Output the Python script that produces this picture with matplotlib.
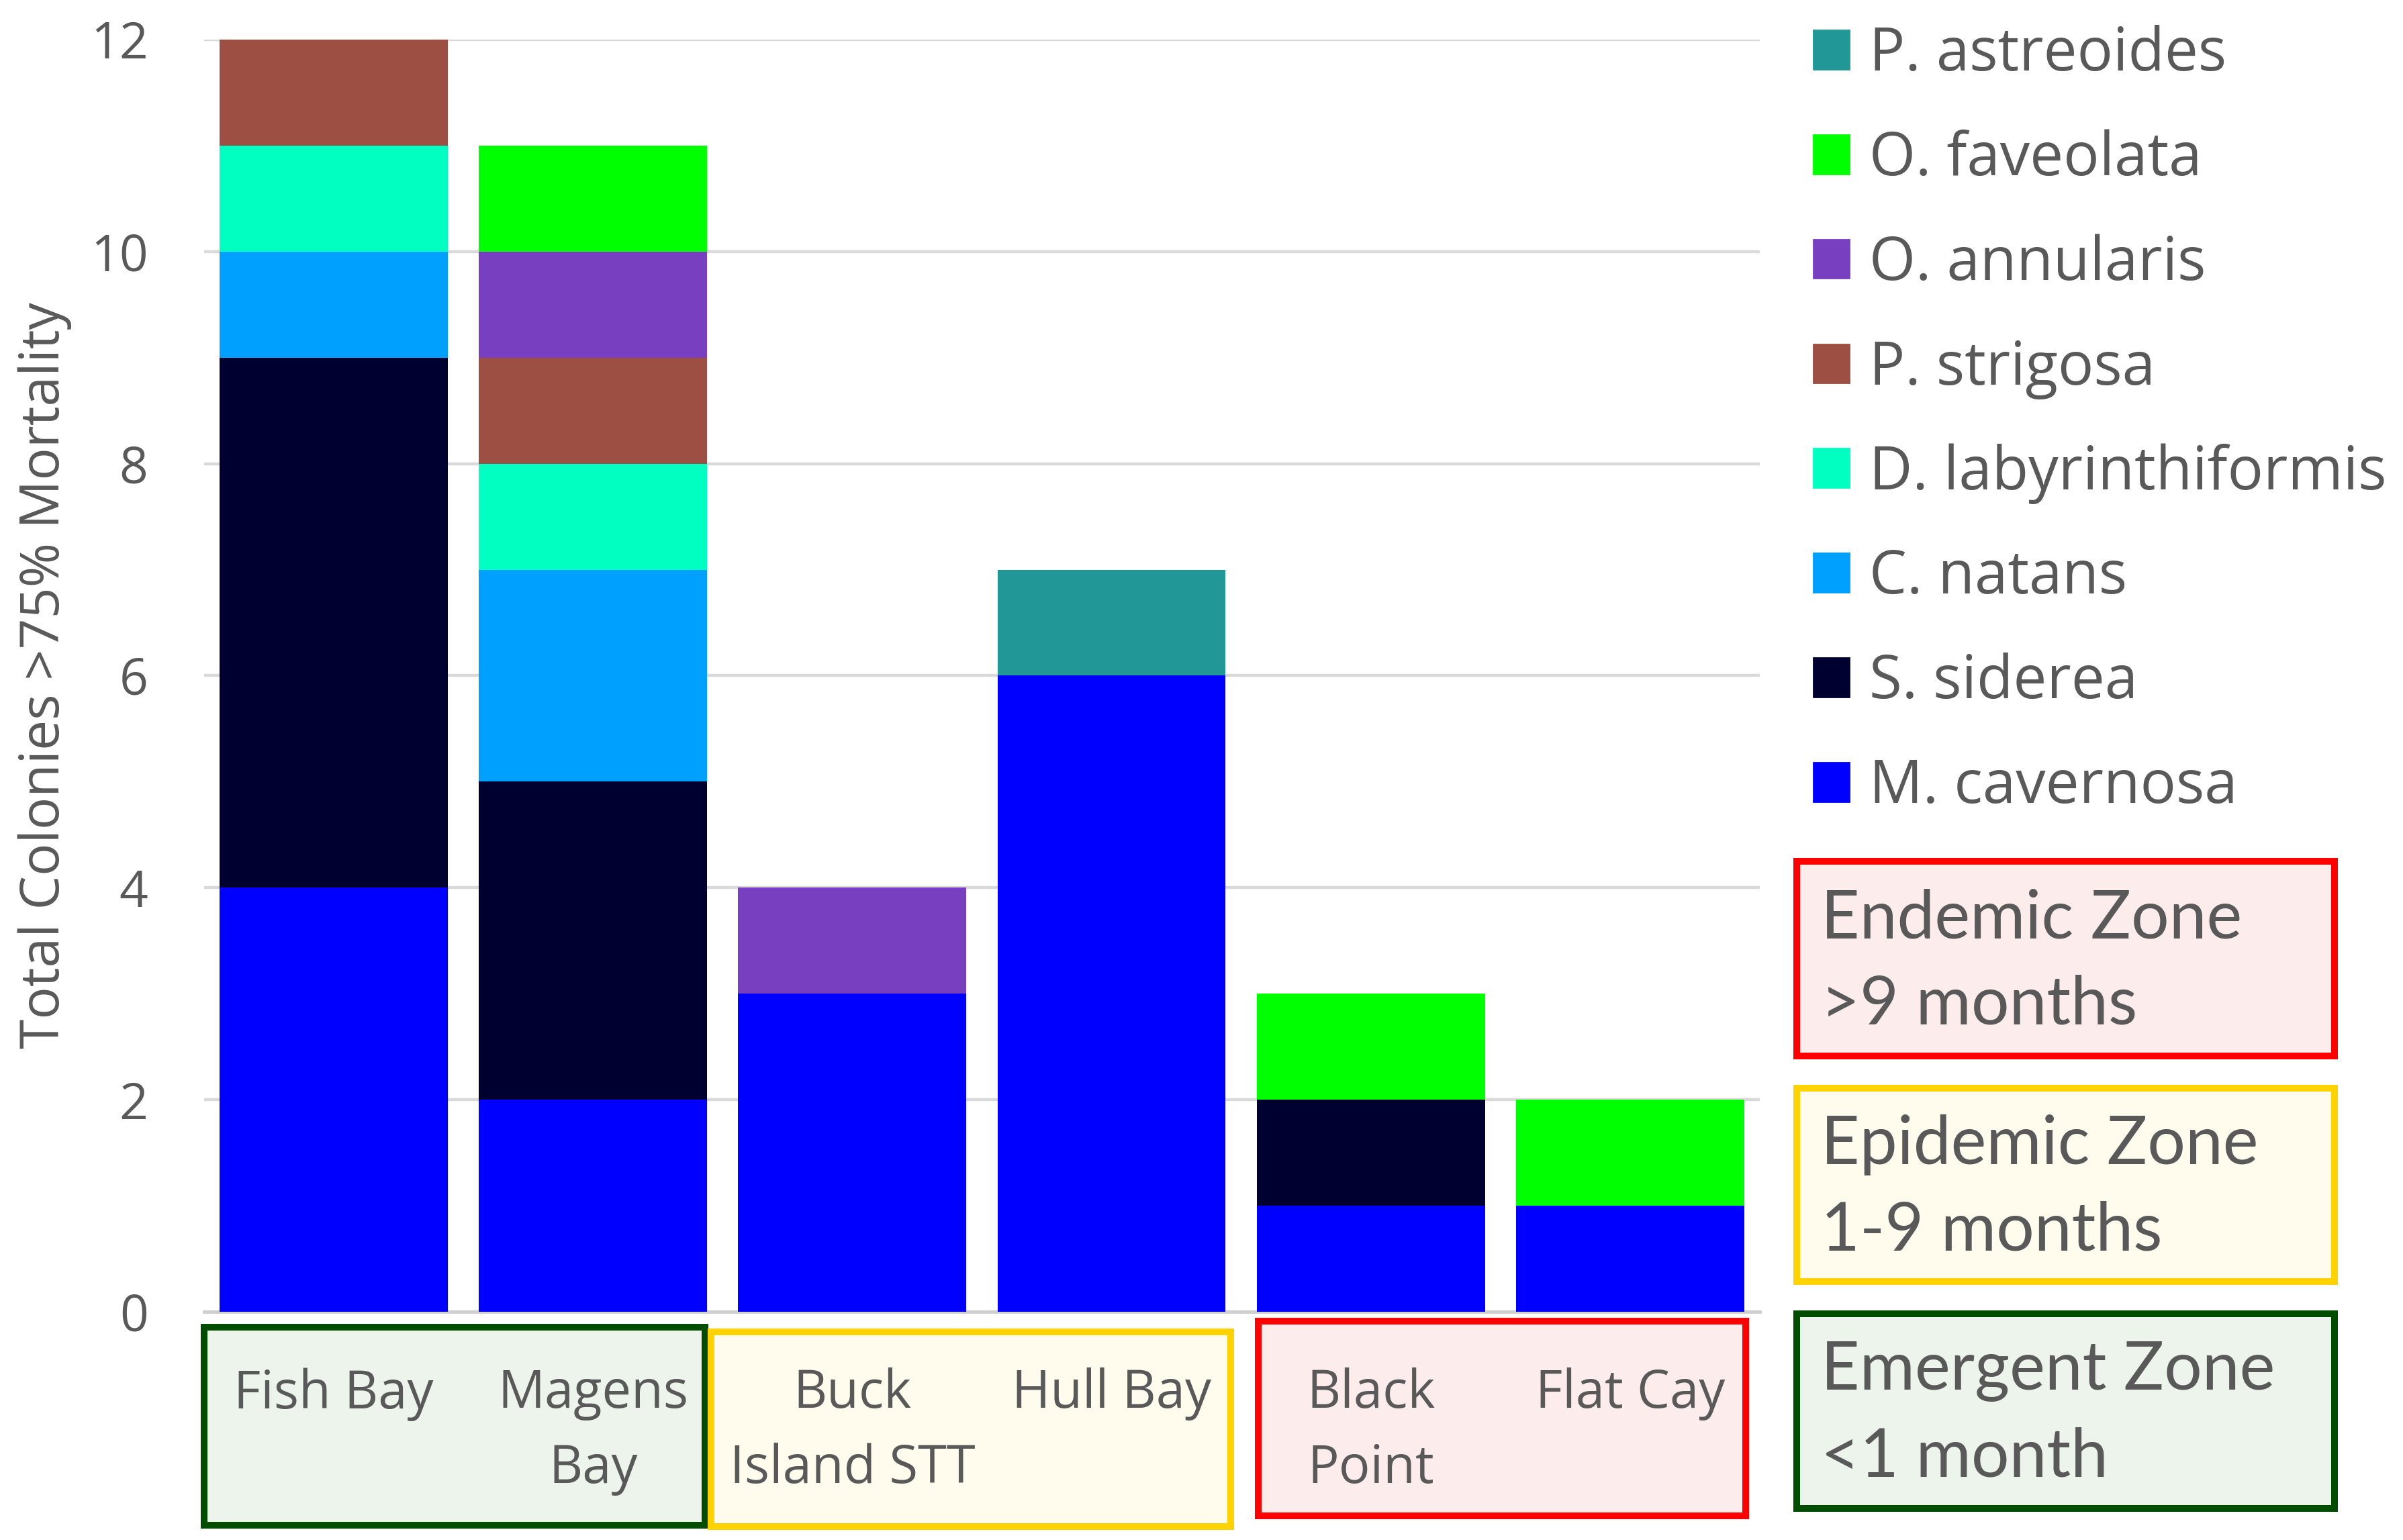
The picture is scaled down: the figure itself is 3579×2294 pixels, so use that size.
import matplotlib
matplotlib.use("Agg")
import matplotlib.pyplot as plt
from matplotlib.patches import Rectangle, Patch
import numpy as np

# data
sites = ["Fish Bay", "Magens\nBay", "Buck\nIsland STT", "Hull Bay", "Black\nPoint", "Flat Cay"]
species = ["M. cavernosa", "S. siderea", "C. natans", "D. labyrinthiformis",
           "P. strigosa", "O. annularis", "O. faveolata", "P. astreoides"]
m_cavernosa = [4, 2, 3, 6, 1, 1]
s_siderea = [5, 3, 0, 0, 1, 0]
c_natans = [1, 2, 0, 0, 0, 0]
d_labyrinthiformis = [1, 1, 0, 0, 0, 0]
p_strigosa = [1, 1, 0, 0, 0, 0]
o_annularis = [0, 1, 1, 0, 0, 0]
o_faveolata = [0, 1, 0, 0, 1, 1]
p_astreoides = [0, 0, 0, 1, 0, 0]
zones = ["Endemic Zone\n>9 months", "Epidemic Zone\n1-9 months", "Emergent Zone\n<1 month"]

series = [m_cavernosa, s_siderea, c_natans, d_labyrinthiformis,
          p_strigosa, o_annularis, o_faveolata, p_astreoides]
colors = ["#0000FF", "#000030", "#00A0FF", "#00FFC0",
          "#9C4F42", "#7840C0", "#00FF00", "#219797"]

txt = "#595959"
plt.rcParams["font.family"] = ["Open Sans", "DejaVu Sans"]

fig = plt.figure(figsize=(17.9, 11.47), dpi=200)
ax = fig.add_axes([0.0849, 0.1482, 0.6472, 0.8261])

x = np.arange(len(sites))
bottom = np.zeros(len(sites))
for vals, col, name in zip(series, colors, species):
    ax.bar(x, vals, 0.88, bottom=bottom, color=col, label=name, zorder=3)
    bottom += np.array(vals)

ax.set_xlim(-0.5, 5.5)
ax.set_ylim(0, 12)
ax.set_yticks(range(0, 13, 2))
ax.yaxis.grid(True, color="#D9D9D9", lw=1.6, zorder=0)
for s in ["top", "right", "left"]:
    ax.spines[s].set_visible(False)
ax.spines["bottom"].set_color("#D0D0D0")
ax.spines["bottom"].set_linewidth(1.8)
ax.tick_params(axis="y", length=0, pad=30, labelsize=27, labelcolor=txt)
ax.tick_params(axis="x", length=0, pad=30, labelsize=28, labelcolor=txt)
ax.set_xticks(x)
ax.set_xticklabels(sites, linespacing=1.55)
ax.set_ylabel("Total Colonies >75% Mortality", fontsize=29, color=txt, labelpad=10)

# legend, top entry first
handles = [Patch(color=c) for c in colors[::-1]]
fig.legend(handles, species[::-1], loc="upper left", bbox_to_anchor=(0.7545, 0.984),
           frameon=False, fontsize=32, labelcolor=txt, handlelength=0.6, handleheight=0.62,
           handletextpad=0.33, labelspacing=0.735, borderpad=0, borderaxespad=0)

# site group boxes under the axis
W, H = 3580.0, 2294.0
groups = [(304, 1977, 1050, 2272, "#004D00", "#ECF4EC"),
          (1059, 1984, 1833, 2274, "#FFD200", "#FFFCEE"),
          (1874, 1968, 2600, 2258, "#FF0000", "#FDECEC")]
for x0, y0, x1, y1, ec, fc in groups:
    fig.add_artist(Rectangle((x0 / W, 1 - y1 / H), (x1 - x0) / W, (y1 - y0) / H,
                             transform=fig.transFigure, ec=ec, fc=fc, lw=3.6, zorder=-1))

# zone key boxes
keys = [(1283, 1573, "#FF0000", "#FDECEC"),
        (1621, 1909, "#FFD200", "#FFFCEE"),
        (1957, 2247, "#004D00", "#ECF4EC")]
for (y0, y1, ec, fc), z in zip(keys, zones):
    fig.add_artist(Rectangle((2676 / W, 1 - y1 / H), (3477 - 2676) / W, (y1 - y0) / H,
                             transform=fig.transFigure, ec=ec, fc=fc, lw=3.6))
    fig.text(2712 / W, 1 - (y0 + y1) / 2 / H - 0.002, z, fontsize=36, color=txt,
             family=["Lato", "DejaVu Sans"], va="center", ha="left", linespacing=1.5)

plt.savefig("out.png", dpi=200)
